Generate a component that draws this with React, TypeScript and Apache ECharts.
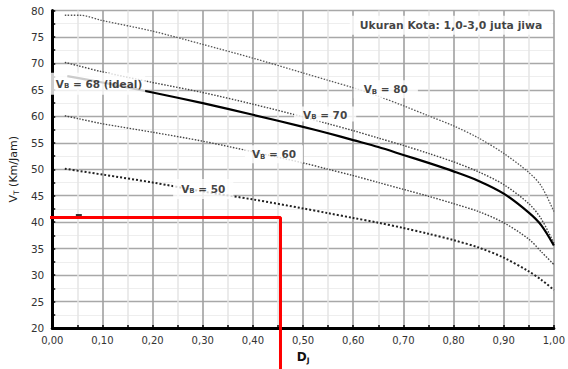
import React, { useEffect, useRef } from 'react';
import * as echarts from 'echarts';

const FONT = 'DejaVu Sans';

// Curves: [Dj, VT]
const vb80: number[][] = [
  [0.025, 79.1], [0.055, 79.1], [0.1, 78.1], [0.2, 76.1], [0.3, 73.6], [0.4, 71.0],
  [0.5, 68.2], [0.55, 66.8], [0.6, 65.4], [0.65, 63.8], [0.7, 62.0], [0.75, 60.1],
  [0.8, 58.2], [0.85, 55.9], [0.9, 53.0], [0.95, 49.4], [0.975, 46.8], [1.0, 42.0],
];
const vb70: number[][] = [
  [0.025, 70.2], [0.05, 69.6], [0.1, 68.4], [0.2, 66.4], [0.3, 64.5], [0.4, 62.3],
  [0.5, 59.9], [0.55, 58.6], [0.6, 57.3], [0.65, 55.9], [0.7, 54.5], [0.75, 53.0],
  [0.8, 51.4], [0.85, 49.5], [0.9, 47.1], [0.95, 43.5], [0.975, 40.6], [1.0, 36.0],
];
const vb68: number[][] = [
  [0.03, 67.6], [0.1, 66.4], [0.2, 64.5], [0.3, 62.5], [0.4, 60.3], [0.5, 58.0],
  [0.55, 56.8], [0.6, 55.5], [0.65, 54.2], [0.7, 52.7], [0.75, 51.2], [0.8, 49.6],
  [0.85, 47.8], [0.9, 45.4], [0.95, 41.8], [0.975, 39.4], [1.0, 35.6],
];
const vb60: number[][] = [
  [0.025, 60.1], [0.05, 59.6], [0.1, 58.6], [0.2, 57.0], [0.3, 55.3], [0.4, 53.3],
  [0.5, 51.2], [0.55, 50.0], [0.6, 48.8], [0.65, 47.5], [0.7, 46.2], [0.75, 44.9],
  [0.8, 43.5], [0.85, 42.0], [0.9, 39.9], [0.95, 36.8], [0.975, 34.4], [1.0, 32.0],
];
const vb50: number[][] = [
  [0.025, 50.1], [0.1, 49.0], [0.2, 47.5], [0.3, 45.8], [0.4, 44.3], [0.5, 42.6],
  [0.55, 41.7], [0.6, 40.8], [0.65, 39.9], [0.7, 38.9], [0.75, 37.8], [0.8, 36.6],
  [0.85, 35.2], [0.9, 33.3], [0.95, 30.7], [0.975, 29.1], [1.0, 27.2],
];

// Reading guide (red) and small marker
const guide: number[][] = [[-0.1, 40.9], [0.455, 40.9], [0.455, 10]];
const marker: number[][] = [[0.053, 41.3]];

// Annotation texts and their anchors (data units)
const labelTexts = ['{v|V}{s|B}{v| = 68 (ideal)}', '{v|V}{s|B}{v| = 70}', '{v|V}{s|B}{v| = 80}', '{v|V}{s|B}{v| = 60}', '{v|V}{s|B}{v| = 50}', '{u|Ukuran Kota: 1,0-3,0 juta jiwa}'];
const labelAnchors: number[][] = [[0.0912, 66.15], [0.544, 60.44], [0.665, 65.12], [0.442, 52.82], [0.301, 46.27], [0.795, 77.19]];
const labelPads: number[][] = [[5, 3, 5, 5], [2, 9, 1, 9], [3, 10, 3, 10], [3, 7, 3, 7], [4, 8, 4, 8], [3, 10, 3, 10]];

const richStyles = {
  v: { fontFamily: FONT, fontWeight: 'bold', fontSize: 10.5, color: '#111', lineHeight: 12 },
  s: { fontFamily: FONT, fontWeight: 'bold', fontSize: 7, color: '#111', lineHeight: 6, verticalAlign: 'bottom' },
  u: { fontFamily: FONT, fontWeight: 'bold', fontSize: 10.8, color: '#111', lineHeight: 13 },
};

function curve(name: string, data: number[][], color: string, width: number, dash: any) {
  return {
    name,
    type: 'line',
    data,
    smooth: 0.3,
    showSymbol: false,
    symbol: 'none',
    z: 3,
    lineStyle: { color, width, type: dash },
  };
}

export default function App() {
  const ref = useRef<HTMLDivElement>(null);
  useEffect(() => {
    const chart = echarts.init(ref.current!, null, { renderer: 'svg' });
    const option: any = {
      animation: false,
      backgroundColor: '#fff',
      grid: { left: 48, right: 10, top: 10.5, bottom: 38, containLabel: false },
      xAxis: {
        type: 'value', min: 0, max: 1, interval: 0.1,
        name: '{d|D}{s|J}', nameLocation: 'middle', nameGap: 22,
        nameTextStyle: {
          rich: {
            d: { fontFamily: FONT, fontWeight: 'bold', fontSize: 12, color: '#111', lineHeight: 14 },
            s: { fontFamily: FONT, fontWeight: 'bold', fontSize: 7.5, color: '#111', lineHeight: 7, verticalAlign: 'bottom' },
          },
        },
        axisLine: { show: true, onZero: false, lineStyle: { color: '#000', width: 3 } },
        axisTick: { show: true, inside: true, length: 3, lineStyle: { color: '#000', width: 1.5 } },
        minorTick: { show: true, splitNumber: 2, length: 3, lineStyle: { color: '#000', width: 1.5 } },
        splitLine: { show: true, lineStyle: { color: '#a0a0a0', width: 1.6 } },
        minorSplitLine: { show: true, lineStyle: { color: '#e4e4e4', width: 1.5 } },
        axisLabel: {
          fontFamily: FONT, fontSize: 10, color: '#333', margin: 7,
          formatter: (v: number) => v.toFixed(2).replace('.', ','),
        },
      },
      yAxis: {
        type: 'value', min: 20, max: 80, interval: 5,
        name: '{v|V}{s|T}{v| (Km/Jam)}', nameLocation: 'middle', nameGap: 27, nameRotate: 90,
        nameTextStyle: {
          rich: {
            v: { fontFamily: FONT, fontSize: 11, color: '#222', lineHeight: 13 },
            s: { fontFamily: FONT, fontSize: 7.5, color: '#222', lineHeight: 7, verticalAlign: 'bottom' },
          },
        },
        axisLine: { show: true, onZero: false, lineStyle: { color: '#000', width: 3 } },
        axisTick: { show: true, inside: true, length: 3, lineStyle: { color: '#000', width: 1.5 } },
        minorTick: { show: true, splitNumber: 2, length: 3, lineStyle: { color: '#000', width: 1.5 } },
        splitLine: { show: true, lineStyle: { color: '#a8a8a8', width: 1.3 } },
        minorSplitLine: { show: true, lineStyle: { color: '#eeeeee', width: 1 } },
        axisLabel: { fontFamily: FONT, fontSize: 10.5, color: '#333', margin: 8 },
      },
      series: [
        curve('VB = 80', vb80, '#555', 1.3, [1.5, 1.5]),
        curve('VB = 70', vb70, '#444', 1.4, [1.5, 1.5]),
        curve('VB = 68', vb68, '#000', 2.2, 'solid'),
        curve('VB = 60', vb60, '#444', 1.4, [1.5, 1.5]),
        curve('VB = 50', vb50, '#222', 2, [2, 2]),
        {
          name: 'labels', type: 'scatter', symbolSize: 0, z: 10, silent: true,
          data: labelAnchors.map((p, i) => ({
            value: p,
            label: {
              show: true, position: 'inside', formatter: labelTexts[i], rich: richStyles,
              backgroundColor: '#fff', padding: labelPads[i],
            },
          })),
        },
        {
          name: 'marker', type: 'scatter', data: marker, symbol: 'rect', symbolSize: [6, 2.5],
          itemStyle: { color: '#000' }, z: 11, silent: true,
        },
        {
          name: 'guide', type: 'line', data: guide, clip: false, showSymbol: false, symbol: 'none',
          z: 12, silent: true,
          lineStyle: { color: '#ff0000', width: 3 },
        },
      ],
    };
    chart.setOption(option);
    return () => chart.dispose();
  }, []);
  return <div ref={ref} style={{ position: 'absolute', left: 0, top: 0, width: 568, height: 369 }} />;
}
